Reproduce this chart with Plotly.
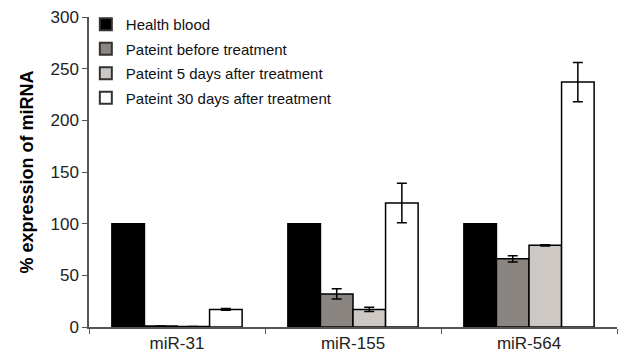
import plotly.graph_objects as go

categories = ["miR-31", "miR-155", "miR-564"]
series_names = ["Health blood", "Pateint before treatment",
                "Pateint 5 days after treatment", "Pateint 30 days after treatment"]
health = [100, 100, 100]
health_err = [0, 0, 0]
before = [1, 32, 66]
before_err = [0, 5, 3]
days5 = [0.5, 17, 79]
days5_err = [0, 2, 0.5]
days30 = [17, 120, 237]
days30_err = [0.8, 19, 19]

values = [health, before, days5, days30]
errors = [health_err, before_err, days5_err, days30_err]
colors = ["#000000", "#8a8580", "#cdc8c4", "#ffffff"]

fig = go.Figure()
for name, v, e, c in zip(series_names, values, errors, colors):
    fig.add_trace(go.Bar(
        x=categories, y=v, name=name, showlegend=False,
        marker=dict(color=c, line=dict(color="#000000", width=1.5)),
        error_y=dict(type="data", array=e, visible=True, color="#000000",
                     thickness=1.5, width=5),
    ))
# legend entries with small square swatches
for name, c in zip(series_names, colors):
    fig.add_trace(go.Scatter(
        x=[None], y=[None], mode="markers", name=name, legendgroup=name,
        marker=dict(symbol="square", size=10, color=c,
                    line=dict(color="#333333", width=1.5)),
    ))

fig.update_layout(
    width=626, height=352,
    barmode="group", bargap=0.26, bargroupgap=0,
    paper_bgcolor="white", plot_bgcolor="white",
    margin=dict(l=81, r=17, t=9, b=33, autoexpand=False),
    font=dict(family="Liberation Sans, Arial, sans-serif", color="#000000"),
    showlegend=True,
    legend=dict(x=-0.006, y=1.029, xanchor="left", yanchor="top",
                font=dict(size=15, color="#111111"), bgcolor="rgba(0,0,0,0)",
                itemwidth=30, tracegroupgap=2, itemsizing="constant"),
    yaxis=dict(range=[0, 300], tickvals=[0, 50, 100, 150, 200, 250, 300],
               ticks="outside", ticklen=5, tickcolor="#555555",
               showline=True, linecolor="#555555", linewidth=1.5,
               showgrid=False, zeroline=False, ticklabeloverflow="allow",
               tickfont=dict(size=17, color="#222222"),
               title=dict(text="<b>% expression of miRNA</b>", font=dict(size=18),
                          standoff=12)),
    xaxis=dict(showline=True, linecolor="#555555", linewidth=1.5,
               ticks="outside", tickson="boundaries", ticklen=5, tickcolor="#555555",
               tickfont=dict(size=17, color="#222222"), showgrid=False),
)

fig.write_html("out.html")
